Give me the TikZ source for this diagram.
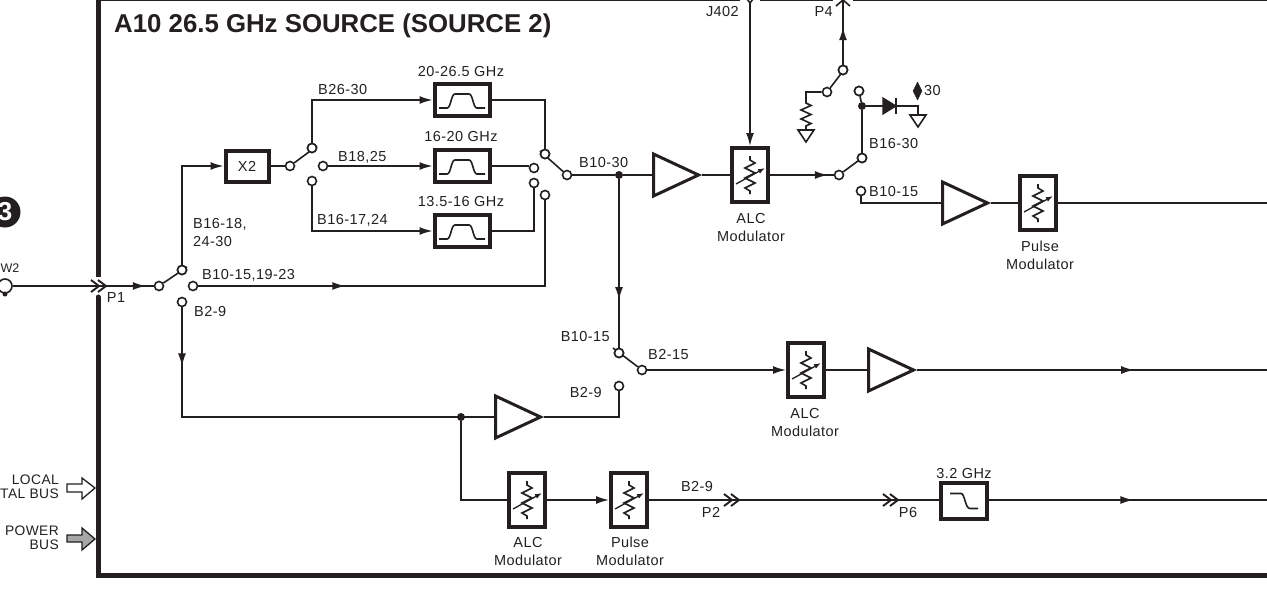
\documentclass[tikz,border=0pt]{standalone}
\usepackage{fontspec}
\setmainfont[LetterSpace=3]{Liberation Sans}
\newfontfamily\titlefont[Scale=1]{Liberation Sans}
\usetikzlibrary{shapes.geometric,arrows.meta,decorations.markings}
\definecolor{ink}{HTML}{231F20}
\tikzset{
 wire/.style={draw=ink,line width=1.6pt},
 endtip/.style={wire,-{Latex[length=13pt,width=8pt]}},
 midtip/.style={wire,postaction={decorate},decoration={markings,mark=at position #1 with {\arrow{Latex[length=13pt,width=8pt]}}}},
 contact/.style={circle,draw=ink,fill=white,line width=1.6pt,minimum size=9pt,inner sep=0pt},
 joint/.style={circle,fill=ink,minimum size=8pt,inner sep=0pt},
 box/.style={rectangle,draw=ink,line width=4pt,fill=white,inner sep=0pt},
 fbox/.style={box,minimum width=55pt,minimum height=32pt},
 modbox/.style={box,minimum width=36pt,minimum height=54pt},
 ampl/.style={isosceles triangle,isosceles triangle apex angle=50,draw=ink,fill=white,line width=3pt,inner sep=0pt,minimum height=45pt,minimum width=42pt,anchor=west},
 lab/.style={font=\fontsize{14.5}{18}\selectfont,text=ink,inner sep=0pt,align=center},
 labw/.style={lab,anchor=west},
 labr/.style={lab,anchor=east,align=right},
 busl/.style={labr,font=\fontsize{13.8}{16}\selectfont},
 bandp/.pic={\draw[ink,line width=1.6pt] (-23,8)--(-15,8) .. controls (-11,8) and (-11,-6) .. (-7,-6) -- (7,-6) .. controls (11,-6) and (11,8) .. (15,8) -- (23,8);},
 lowp/.pic={\draw[ink,line width=1.6pt] (-14,-7)--(-3,-7) .. controls (1,-7) and (1,8) .. (6,8) -- (14,8);},
 atten/.pic={\draw[ink,line width=1.6pt] (0,-19)--(0,-15)--(5,-12)--(-5,-7)--(5,-2)--(-5,3)--(5,8)--(-5,13)--(0,16)--(0,19);
   \draw[ink,line width=1.3pt,-{Latex[length=7pt,width=5pt]}] (-14,9)--(15,-7);},
 dblchev/.pic={\draw[ink,line width=1.9pt] (-14,-6)--(-6,0)--(-14,6) (-7,-6)--(1,0)--(-7,6);},
 gnd/.pic={\draw[ink,line width=1.6pt,fill=white] (-8,0)--(8,0)--(0,12)--cycle;},
}
\begin{document}
\begin{tikzpicture}[x=1pt,y=-1pt]
\useasboundingbox (0,0) rectangle (1267,600);
% frame
\draw[ink,line width=5pt,line cap=round] (98,297)--(98,575)--(1270,575);
\draw[ink,line width=5pt] (98,277)--(98,-3);
\draw[ink,line width=4pt] (96,-1)--(740,-1) (760,-1)--(833,-1) (853,-1)--(1270,-1);
\node[anchor=west,inner sep=0pt,text=ink,font=\titlefont\fontsize{25.8}{28}\selectfont\bfseries] (title) at (114,26) {A10 26.5 GHz SOURCE (SOURCE 2)};
% left margin
\node[circle,fill=ink,minimum size=31pt,inner sep=0pt,text=white,font=\titlefont\fontsize{26}{26}\selectfont\bfseries] (badge) at (5,212) {3};
\node[anchor=west,inner sep=0pt,text=ink,font=\titlefont\fontsize{12.5}{14}\selectfont] (w2) at (0.5,268) {W2};
\node[circle,draw=ink,line width=1.6pt,minimum size=14pt,inner sep=0pt] (w2c) at (5,286) {};
\node[joint,minimum size=5pt] (w2d) at (5,294) {};
\node[busl] (loc) at (59,480) {LOCAL};
\node[busl] (dig) at (59,494) {TAL BUS};
\node[busl] (pow) at (59,531) {POWER};
\node[busl] (pbus) at (59,545) {BUS};
\draw[ink,line width=1.3pt,fill=white] (67,484)--(82,484)--(82,478)--(95,488)--(82,499)--(82,492)--(67,492)--cycle;
\draw[ink,line width=1.3pt,fill=black!35] (67,535)--(82,535)--(82,528)--(95,539)--(82,550)--(82,542)--(67,542)--cycle;
% input switch
\coordinate (p1) at (105,286);
\node[lab] (p1l) at (116,298) {P1};
\node[contact] (s1i) at (159,286) {};
\node[contact] (s1a) at (182,270) {};
\node[contact] (s1b) at (193,286) {};
\node[contact] (s1c) at (182,302) {};
\draw[midtip=.944] (w2c.east) -- (s1i.west);
\pic at (p1) {dblchev};
\draw[wire] (s1i) -- (187,267);
\node[contact] at (s1a) {};
\node[box,minimum width=43pt,minimum height=31pt,lab,font=\fontsize{14.5}{16}\selectfont] (x2) at (247,166) {X2};
\draw[endtip] (s1a.north) |- (x2.west);
\node[labw,align=left] (bl1) at (193,233) {B16-18,\\24-30};
\node[labw] (bl2) at (202,275) {B10-15,19-23};
\node[labw] (bl3) at (194,312) {B2-9};
% second switch
\node[contact] (s2i) at (290,166) {};
\node[contact] (s2a) at (312,148) {};
\node[contact] (s2b) at (323,166) {};
\node[contact] (s2c) at (312,181) {};
\draw[wire] (x2.east) -- (s2i.west);
\draw[wire] (s2i) -- (317,146);
\node[contact] at (s2a) {};
% filters
\node[fbox] (f1) at (462,100) {}; \pic at (f1) {bandp};
\node[fbox] (f2) at (462,166) {}; \pic at (f2) {bandp};
\node[fbox] (f3) at (462,231) {}; \pic at (f3) {bandp};
\node[lab] (f1l) at (461,72) {20-26.5 GHz};
\node[lab] (f2l) at (461,137) {16-20 GHz};
\node[lab] (f3l) at (461,202) {13.5-16 GHz};
\draw[endtip] (s2a.north) |- (f1.west);
\draw[endtip] (s2b.east) -- (f2.west);
\draw[endtip] (s2c.south) |- (f3.west);
\node[labw] (b26) at (318,90) {B26-30};
\node[labw] (b18) at (338,157) {B18,25};
\node[labw] (b16) at (317,220) {B16-17,24};
% third switch
\node[contact] (s3a) at (545,154) {};
\node[contact] (s3b) at (534,168) {};
\node[contact] (s3c) at (534,183) {};
\node[contact] (s3d) at (545,195) {};
\node[contact] (s3o) at (567,175) {};
\draw[wire] (f1.east) -| (s3a.north);
\draw[wire] (f2.east) -- (s3b.west |- f2.east);
\draw[wire] (f3.east) -| (s3c.south);
\draw[wire] (s3o) -- (540,151);
\node[contact] at (s3a) {};
\draw[midtip=.34] (s1b.east) -| (s3d.south);
\node[joint] (j1) at (619,175) {};
\draw[wire] (s3o.east) -- (j1);
\node[labw] (b1030) at (579,163) {B10-30};
% upper chain
\node[ampl] (a1) at (652,175) {};
\node[modbox] (m1) at (750,175) {}; \pic at (m1) {atten};
\draw[wire] (j1) -- (a1.west);
\draw[wire] (a1.east) -- (m1.west);
\node[lab] (m1l) at (751,228) {ALC\\Modulator};
\coordinate (j402) at (750,3);
\draw[ink,line width=1.6pt] (744,-5)--(j402)--(756,-5);
\draw[endtip] (j402) -- (m1.north);
\node[labr] (j402l) at (739,12) {J402};
\node[contact] (s4i) at (839,175) {};
\node[contact] (s4a) at (862,158) {};
\node[contact] (s4b) at (859,91) {};
\node[contact] (s4c) at (861,191) {};
\draw[midtip=.91] (m1.east) -- (s4i.west);
\draw[wire] (s4i) -- (866,155);
\node[contact] at (s4a) {};
\node[joint] (j2) at (862,106) {};
\draw[wire] (s4a.north) -- (j2);
\draw[wire] (j2) -- (s4b);
\node[contact] at (s4b) {};
\node[labw] (b1630) at (869,144) {B16-30};
\node[labw] (b1015a) at (869,192) {B10-15};
% diode and ground
\coordinate (dk) at (896,106);
\coordinate (dgnd) at (918,115);
\draw[ink,fill=ink,line width=1.2pt] (883,98)--(dk)--(883,114)--cycle;
\draw[ink,line width=1.6pt] (896,98)--(896,114);
\draw[wire] (j2) -- (dk);
\draw[wire] (dk) -| (dgnd);
\pic at (dgnd) {gnd};
\draw[ink,fill=ink] (917.5,82)--(922,91)--(917.5,100)--(913,91)--cycle;
\node[labw] (d30) at (924,91) {30};
% P4 branch
\node[contact] (s5a) at (843,70) {};
\node[contact] (s5b) at (827,92) {};
\coordinate (p4) at (843,0);
\draw[midtip=.58] (s5a.north) -- (p4);
\draw[ink,line width=1.6pt] (836,6)--(p4)--(850,6);
\node[labr] (p4l) at (833,12) {P4};
\draw[wire] (s5b) -- (847,66);
\node[contact] at (s5a) {};
\coordinate (rg) at (806,130);
\draw[wire] (s5b.west) -- (806,92) -- (806,103) -- (811,105.5) -- (801,110) -- (811,114.5) -- (801,119) -- (811,123.5) -- (806,126) -- (rg);
\pic at (rg) {gnd};
% pulse chain
\node[ampl] (a2) at (941,203) {};
\node[modbox] (m2) at (1038,203) {}; \pic at (m2) {atten};
\coordinate (e1) at (1270,203);
\draw[wire] (s4c.south) |- (a2.west);
\draw[wire] (a2.east) -- (m2.west);
\draw[wire] (m2.east) -- (e1);
\node[lab] (m2l) at (1040,255) {Pulse\\Modulator};
% middle chain
\node[contact] (s6a) at (619,353) {};
\node[contact] (s6o) at (642,370) {};
\node[contact] (s6b) at (619,386) {};
\draw[midtip=.717] (j1) -- (s6a.north);
\draw[wire] (s6o) -- (613,348);
\node[contact] at (s6a) {};
\node[labr] (b1015b) at (610,337) {B10-15};
\node[labw] (b215) at (648,355) {B2-15};
\node[labr] (b29a) at (602,393) {B2-9};
\node[modbox] (m3) at (806,370) {}; \pic at (m3) {atten};
\draw[endtip] (s6o.east) -- (m3.west);
\node[lab] (m3l) at (805,423) {ALC\\Modulator};
\node[ampl] (a3) at (867,370) {};
\draw[wire] (m3.east) -- (a3.west);
\coordinate (e2) at (1270,370);
\draw[midtip=.615] (a3.east) -- (e2);
% lower amp
\node[ampl] (a4) at (494,417) {};
\draw[midtip=.14] (s1c.south) |- (a4.west);
\draw[wire] (a4.east) -| (s6b.south);
\node[joint] (j3) at (461,417) {};
% bottom chain
\node[modbox] (m4) at (527,500) {}; \pic at (m4) {atten};
\node[modbox] (m5) at (629,500) {}; \pic at (m5) {atten};
\draw[wire] (j3) |- (m4.west);
\draw[endtip] (m4.east) -- (m5.west);
\node[lab] (m4l) at (528,552) {ALC\\Modulator};
\node[lab] (m5l) at (630,551) {Pulse\\Modulator};
\coordinate (p2) at (738,500);
\coordinate (p6) at (897,500);
\draw[wire] (m5.east) -- (p2);
\draw[wire] (p2) -- (p6);
\pic at (p2) {dblchev};
\pic at (p6) {dblchev};
\node[lab] (b29b) at (697,487) {B2-9};
\node[lab] (p2l) at (711,512) {P2};
\node[lab] (p6l) at (908,513) {P6};
\node[box,minimum width=46pt,minimum height=36pt] (f4) at (964,500.5) {}; \pic at (f4) {lowp};
\node[lab] (f4l) at (964,474) {3.2 GHz};
\draw[wire] (p6) -- (f4.west |- p6);
\coordinate (e3) at (1270,500);
\draw[midtip=.514] (f4.east |- p6) -- (e3);
\end{tikzpicture}
\end{document}
